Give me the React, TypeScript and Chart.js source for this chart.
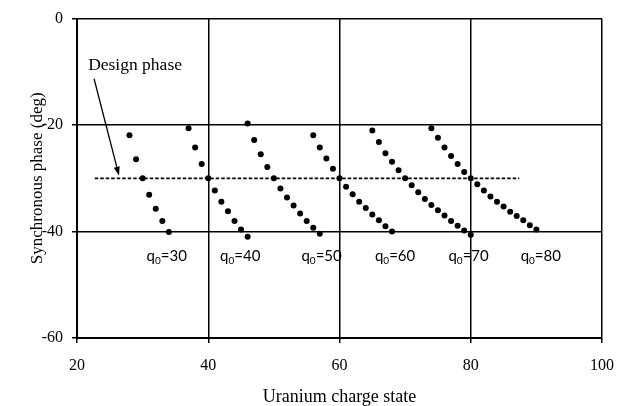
import React, { useEffect, useRef } from "react";
import { Chart, registerables } from "chart.js";

Chart.register(...registerables);

// ---- data ----
const q30Charge = [28, 29, 30, 31, 32, 33, 34];
const q30Phase = [-21.9, -26.4, -30.0, -33.1, -35.7, -38.0, -40.1];

const q40Charge = [37, 38, 39, 40, 41, 42, 43, 44, 45, 46];
const q40Phase = [-20.6, -24.2, -27.3, -30.0, -32.3, -34.4, -36.2, -38.0, -39.6, -41.0];

const q50Charge = [46, 47, 48, 49, 50, 51, 52, 53, 54, 55, 56, 57];
const q50Phase = [-19.7, -22.8, -25.5, -27.9, -30.0, -31.9, -33.6, -35.1, -36.6, -38.0, -39.3, -40.4];

const q60Charge = [56, 57, 58, 59, 60, 61, 62, 63, 64, 65, 66, 67, 68];
const q60Phase = [-21.9, -24.2, -26.3, -28.2, -30.0, -31.6, -33.0, -34.4, -35.6, -36.8, -37.9, -39.0, -40.0];

const q70Charge = [65, 66, 67, 68, 69, 70, 71, 72, 73, 74, 75, 76, 77, 78, 79, 80];
const q70Phase = [-21.0, -23.2, -25.3, -26.9, -28.5, -30.0, -31.3, -32.6, -33.9, -35.0, -36.0, -37.0, -38.0, -38.9, -39.8, -40.6];

const q80Charge = [74, 75, 76, 77, 78, 79, 80, 81, 82, 83, 84, 85, 86, 87, 88, 89, 90];
const q80Phase = [-20.6, -22.4, -24.2, -25.8, -27.3, -28.8, -30.0, -31.1, -32.3, -33.4, -34.4, -35.3, -36.3, -37.1, -37.9, -38.8, -39.6];

const designCharge = [22.7, 87.4];
const designPhase = [-30, -30];

const seriesQ0 = ["30", "40", "50", "60", "70", "80"];
const seriesLabelCharge = [30.6, 41.8, 54.2, 65.4, 76.6, 87.6];
const seriesLabelPhase = -45.6;

const designText = "Design phase";
const designTextCharge = 21.7;
const designTextPhase = -8.7;
const arrowFromCharge = 22.6;
const arrowFromPhase = -11.3;
const arrowToCharge = 26.4;
const arrowToPhase = -29.5;

const xMin = 20;
const xMax = 100;
const xStep = 20;
const yMin = -60;
const yMax = 0;
const yStep = 20;

const xTitle = "Uranium charge state";
const yTitle = "Synchronous phase (deg)";

const SERIF = "'Liberation Serif', 'Times New Roman', serif";
const LABEL_FONT = "Lato, 'Open Sans', sans-serif";

const toPts = (xs: number[], ys: number[]) => xs.map((x, i) => ({ x, y: ys[i] }));

const annotationPlugin = {
  id: "annotations",
  afterDatasetsDraw(chart: any) {
    const { ctx, scales } = chart;
    const xs = scales.x;
    const ys = scales.y;
    ctx.save();
    ctx.fillStyle = "#000";
    ctx.strokeStyle = "#000";

    // Design phase text
    ctx.font = `17.5px ${SERIF}`;
    ctx.textAlign = "left";
    ctx.textBaseline = "middle";
    ctx.fillText(designText, xs.getPixelForValue(designTextCharge), ys.getPixelForValue(designTextPhase));

    // Arrow
    const x1 = xs.getPixelForValue(arrowFromCharge);
    const y1 = ys.getPixelForValue(arrowFromPhase);
    const x2 = xs.getPixelForValue(arrowToCharge);
    const y2 = ys.getPixelForValue(arrowToPhase);
    const ang = Math.atan2(y2 - y1, x2 - x1);
    const headLen = 9;
    const headW = 3;
    const bx = x2 - headLen * Math.cos(ang);
    const by = y2 - headLen * Math.sin(ang);
    ctx.lineWidth = 1.3;
    ctx.beginPath();
    ctx.moveTo(x1, y1);
    ctx.lineTo(bx, by);
    ctx.stroke();
    ctx.beginPath();
    ctx.moveTo(x2, y2);
    ctx.lineTo(bx + headW * Math.sin(ang), by - headW * Math.cos(ang));
    ctx.lineTo(bx - headW * Math.sin(ang), by + headW * Math.cos(ang));
    ctx.closePath();
    ctx.fill();

    // q0 labels
    ctx.textBaseline = "alphabetic";
    const by0 = ys.getPixelForValue(seriesLabelPhase);
    seriesQ0.forEach((q, i) => {
      let x = xs.getPixelForValue(seriesLabelCharge[i]);
      ctx.font = `15px ${LABEL_FONT}`;
      ctx.fillText("q", x, by0);
      x += ctx.measureText("q").width;
      ctx.font = `10px ${LABEL_FONT}`;
      ctx.fillText("0", x, by0 + 3);
      x += ctx.measureText("0").width;
      ctx.font = `15px ${LABEL_FONT}`;
      ctx.fillText("=" + q, x, by0);
    });
    ctx.restore();
  },
};

export default function App() {
  const canvasRef = useRef<HTMLCanvasElement | null>(null);

  useEffect(() => {
    if (!canvasRef.current) return;
    const pointDs = (xs: number[], ys: number[]) => ({
      type: "scatter" as const,
      data: toPts(xs, ys),
      showLine: false,
      pointRadius: 3,
      pointHoverRadius: 3,
      pointBackgroundColor: "#000",
      pointBorderWidth: 0,
      borderColor: "#000",
    });
    const chart = new Chart(canvasRef.current, {
      type: "scatter",
      data: {
        datasets: [
          {
            type: "line" as const,
            data: toPts(designCharge, designPhase),
            borderColor: "#000",
            borderWidth: 1.8,
            borderDash: [3.5, 2],
            pointRadius: 0,
            showLine: true,
            fill: false,
          } as any,
          pointDs(q30Charge, q30Phase),
          pointDs(q40Charge, q40Phase),
          pointDs(q50Charge, q50Phase),
          pointDs(q60Charge, q60Phase),
          pointDs(q70Charge, q70Phase),
          pointDs(q80Charge, q80Phase),
        ],
      },
      options: {
        responsive: false,
        animation: false,
        layout: { padding: { left: 0, right: 25, top: 15, bottom: 0 } },
        plugins: {
          legend: { display: false },
          tooltip: { enabled: false },
        },
        scales: {
          x: {
            type: "linear",
            min: xMin,
            max: xMax,
            ticks: {
              stepSize: xStep,
              padding: 13,
              color: "#000",
              font: { family: SERIF, size: 16 },
            },
            grid: { color: "#000", lineWidth: 1.5, tickLength: 5, drawTicks: true },
            border: { color: "#000", width: 2 },
            title: {
              display: true,
              text: xTitle,
              color: "#000",
              font: { family: SERIF, size: 18 },
              padding: { top: 0, bottom: -2 },
            },
            afterFit: (s: any) => {
              s.height = 68;
            },
          },
          y: {
            type: "linear",
            min: yMin,
            max: yMax,
            ticks: {
              stepSize: yStep,
              padding: 9,
              color: "#000",
              font: { family: SERIF, size: 16 },
              callback: (v: any) => String(v),
            },
            grid: { color: "#000", lineWidth: 1.5, tickLength: 5, drawTicks: true },
            border: { color: "#000", width: 2 },
            title: {
              display: true,
              text: yTitle,
              color: "#000",
              font: { family: SERIF, size: 17 },
              padding: { top: 27, bottom: 0 },
            },
            afterFit: (s: any) => {
              s.width = 77;
            },
          },
        },
      },
      plugins: [annotationPlugin],
    });
    return () => chart.destroy();
  }, []);

  return (
    <div style={{ position: "absolute", left: 0, top: 0, width: 627, height: 406, background: "#fff" }}>
      <canvas ref={canvasRef} width={627} height={406} style={{ display: "block" }} />
    </div>
  );
}
